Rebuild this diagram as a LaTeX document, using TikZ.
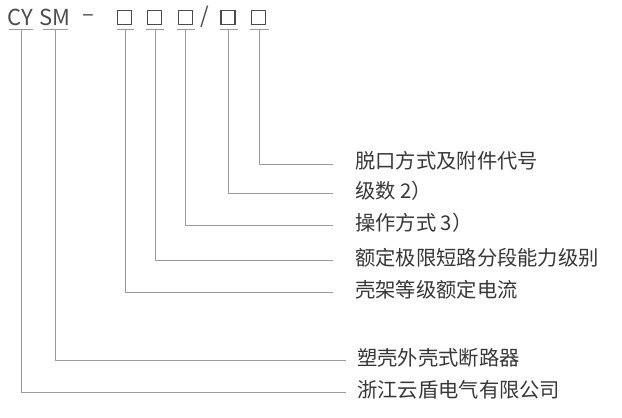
\documentclass[tikz,border=0pt]{standalone}
\usepackage{fontspec}
\setmainfont{Noto Sans CJK SC}
\definecolor{codegray}{RGB}{75,75,75}
\definecolor{linegray}{RGB}{155,155,155}
\definecolor{txtgray}{RGB}{55,55,55}

\begin{document}
\begin{tikzpicture}[x=1pt,y=-1pt,
  code/.style={text=codegray,font=\fontsize{22}{22}\selectfont,inner sep=0pt},
  cell/.style={draw=codegray,line width=1.4pt,minimum size=14pt,inner sep=0pt},
  conn/.style={linegray,line width=0.9pt},
  lbl/.style={anchor=west,text=txtgray,font=\fontsize{20.3}{21}\selectfont,inner sep=0pt}]
  \useasboundingbox (0,0) rectangle (622,418);
  % model code
  \node[code] (cy) at (20.5,17) {CY};
  \node[code] (sm) at (54.5,17) {SM};
  \node[code] (dash) at (88.5,18) {–};
  \node[cell] (b1) at (124.5,17.5) {};
  \node[cell] (b2) at (154.5,17.5) {};
  \node[cell] (b3) at (185.5,17.5) {};
  \node[code] (slash) at (205,17) {/};
  \node[cell] (b4) at (228,17.5) {};
  \node[cell] (b5) at (258.5,17.5) {};
  % underline feet
  \coordinate (u1) at (21,29);
  \coordinate (u2) at (55,29);
  \coordinate (u3) at (125,29);
  \coordinate (u4) at (155,29);
  \coordinate (u5) at (185.5,29);
  \coordinate (u6) at (228.5,29);
  \coordinate (u7) at (259,29);
  \foreach \u/\w in {u1/12,u2/12.5,u3/8.5,u4/9,u5/9,u6/9,u7/9.5}
    \draw[conn] ([xshift=-\w pt]\u) -- ([xshift=\w pt]\u);
  % meanings
  \node[lbl] (l7) at (355,161) {脱口方式及附件代号};
  \node[lbl] (l6) at (355,190.5) {级数 2）};
  \node[lbl] (l5) at (355,222.5) {操作方式 3）};
  \node[lbl] (l4) at (355,257.5) {额定极限短路分段能力级别};
  \node[lbl] (l3) at (355,289.5) {壳架等级额定电流};
  \node[lbl] (l2) at (357,357.5) {塑壳外壳式断路器};
  \node[lbl] (l1) at (357,389.5) {浙江云盾电气有限公司};
  % leaders
  \draw[conn] (u7) |- ([xshift=-22pt,yshift=-3pt]l7.west);
  \draw[conn] (u6) |- ([xshift=-22pt,yshift=-3pt]l6.west);
  \draw[conn] (u5) |- ([xshift=-22pt,yshift=-3pt]l5.west);
  \draw[conn] (u4) |- ([xshift=-22pt,yshift=-3pt]l4.west);
  \draw[conn] (u3) |- ([xshift=-22pt,yshift=-3pt]l3.west);
  \draw[conn] (u2) |- ([xshift=-11pt,yshift=-3pt]l2.west);
  \draw[conn] (u1) |- ([xshift=-11pt,yshift=-3pt]l1.west);
\end{tikzpicture}
\end{document}
